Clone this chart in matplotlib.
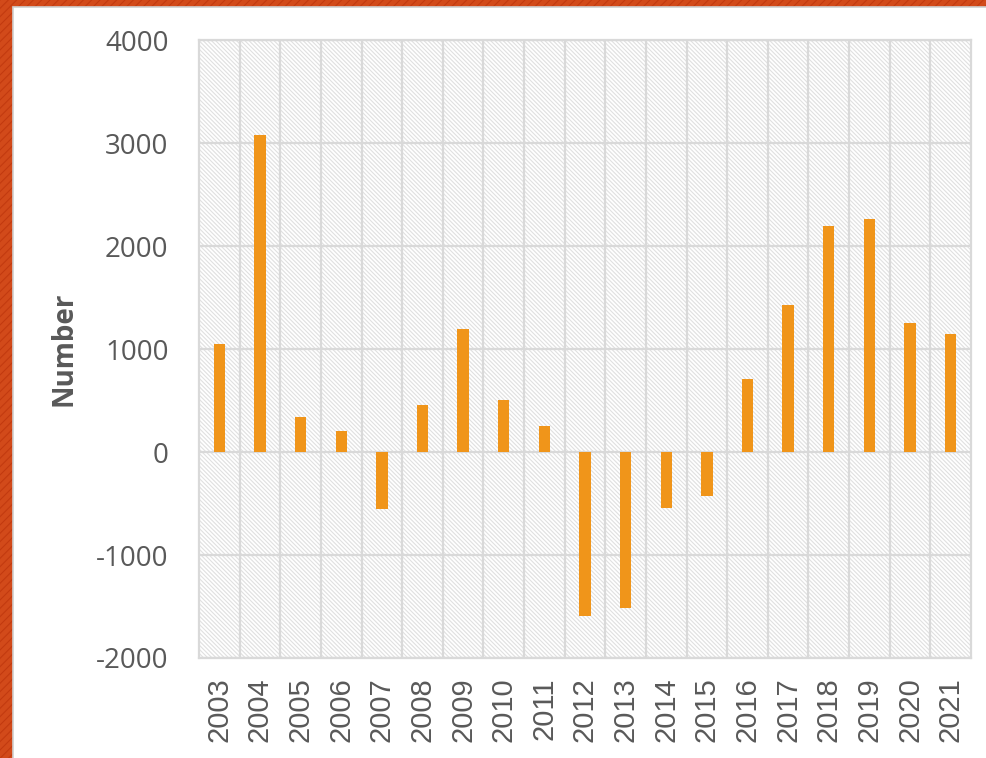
import numpy as np
import matplotlib
matplotlib.use('Agg')
import matplotlib.pyplot as plt
from matplotlib.patches import Rectangle

# data
years = ['2003', '2004', '2005', '2006', '2007', '2008', '2009', '2010', '2011', '2012',
         '2013', '2014', '2015', '2016', '2017', '2018', '2019', '2020', '2021']
values = [1050, 3075, 335, 205, -550, 455, 1195, 505, 255, -1590,
          -1515, -545, -430, 710, 1425, 2195, 2260, 1250, 1145]
y_ticks = [-2000, -1000, 0, 1000, 2000, 3000, 4000]

text_col = '#595959'
grid_col = '#d9d9d9'
bar_col = '#f0951a'

plt.rcParams['hatch.linewidth'] = 0.8

fig = plt.figure(figsize=(9.87, 7.58), dpi=100)

# orange frame with white panel
fig.patches.append(Rectangle((0, 0), 1, 1, transform=fig.transFigure,
                             facecolor='#d24a1a', edgecolor='#c23a10', hatch='////',
                             linewidth=0, zorder=-10))
fig.patches.append(Rectangle((13 / 987, -0.01), 1, (751 / 758) + 0.01, transform=fig.transFigure,
                             facecolor='white', edgecolor='#d0d0d0', linewidth=1.2, zorder=-9))

ax = fig.add_axes([199 / 987, 100 / 758, 772 / 987, 618 / 758])
ax.set_facecolor('white')
ax.add_patch(Rectangle((0, 0), 1, 1, transform=ax.transAxes, facecolor='none',
                       edgecolor='#e0e0e0', hatch='\\' * 8, linewidth=0, zorder=0))

x = np.arange(len(years))
ax.bar(x, values, width=0.28, color=bar_col, zorder=3)

ax.set_xlim(-0.5, len(years) - 0.5)
ax.set_ylim(-2000, 4000)
ax.set_yticks(y_ticks)
ax.set_yticklabels([str(v) for v in y_ticks], fontsize=20, color=text_col, family='Open Sans')
ax.set_xticks(x)
ax.set_xticklabels(years, rotation=90, fontsize=21, color=text_col, family='Liberation Sans')
ax.tick_params(axis='both', length=0)
ax.tick_params(axis='y', pad=22)
ax.tick_params(axis='x', pad=14)

# grid lines: horizontal at ticks, vertical between categories
for yv in y_ticks:
    ax.axhline(yv, color=grid_col, linewidth=1.6, zorder=1)
for xv in np.arange(0.5, len(years) - 0.5, 1):
    ax.axvline(xv, color=grid_col, linewidth=1.6, zorder=1)
for s in ax.spines.values():
    s.set_color(grid_col)
    s.set_linewidth(1.6)

ax.set_ylabel('Number', fontsize=20, fontweight='bold', color=text_col, family='Open Sans')
ax.yaxis.set_label_coords((79 - 199) / 772, 0.5)

fig.savefig('out.png', dpi=100)
